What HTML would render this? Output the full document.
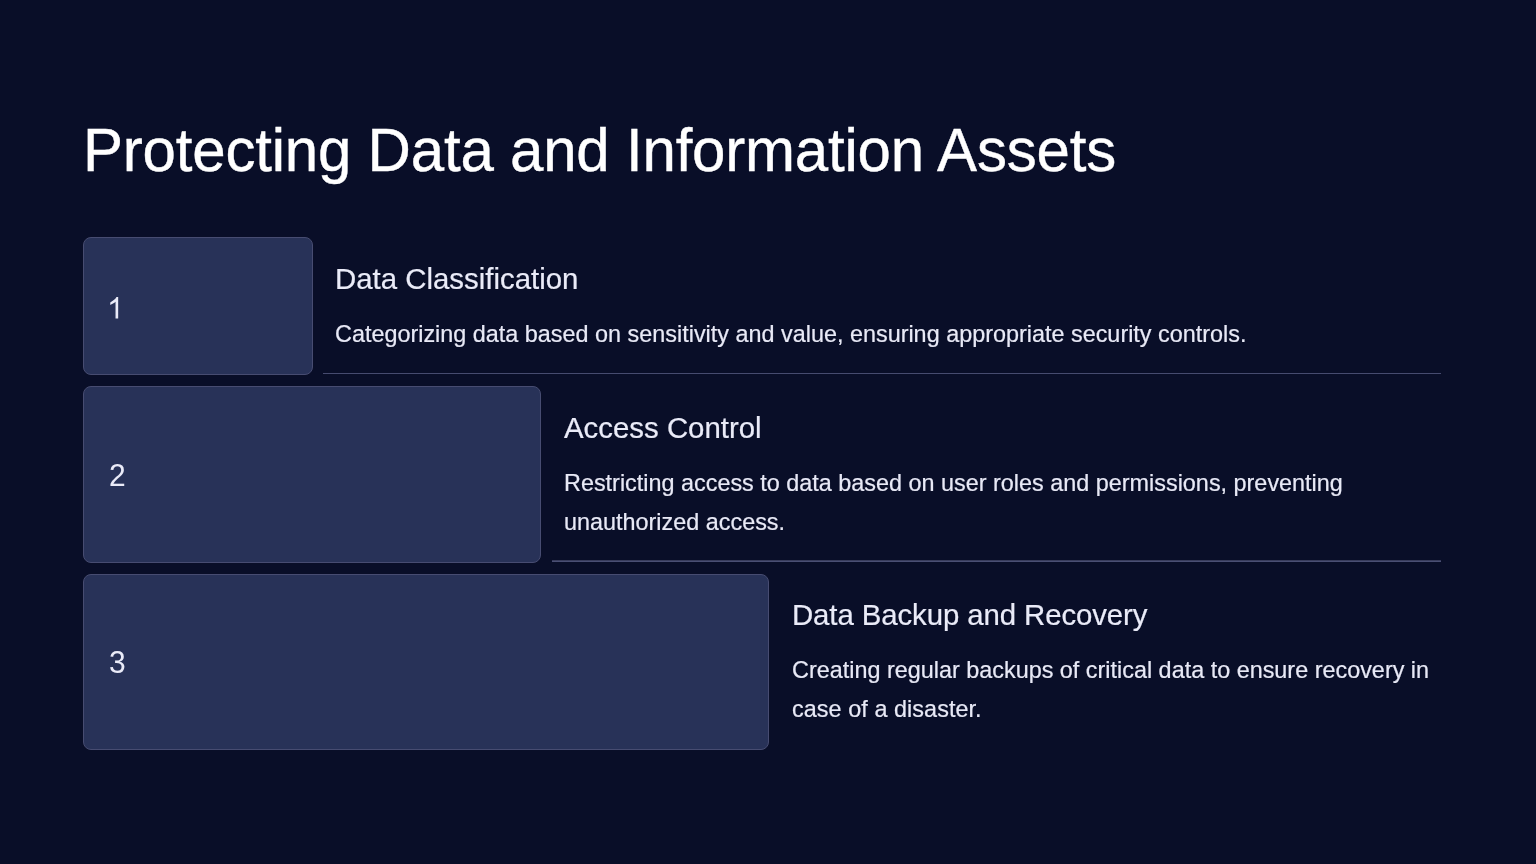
<!DOCTYPE html>
<html><head><meta charset="utf-8">
<style>
html,body{margin:0;padding:0;}
body{width:1536px;height:864px;background:#090e28;position:relative;overflow:hidden;font-family:"Liberation Sans",sans-serif;}
.t{position:absolute;white-space:nowrap;line-height:1;will-change:transform;}
.title{left:83px;top:121px;font-size:60px;letter-spacing:-0.2px;color:#ffffff;-webkit-text-stroke:0.4px #ffffff;transform:scaleY(1.025);transform-origin:0 50.5px;}
.box{position:absolute;left:83px;box-sizing:border-box;background:#283258;border:1px solid #474c71;border-radius:8px;}
.num{position:absolute;left:108.6px;font-size:30px;color:#eaebf8;transform:scaleY(1.05);transform-origin:0 27px;}
.h{font-size:29.4px;color:#eaebf8;-webkit-text-stroke:0.2px #eaebf8;transform:scaleY(1.03);transform-origin:0 25.2px;}
.b{font-size:23.4px;color:#e8e9f6;-webkit-text-stroke:0.2px #e8e9f6;transform:scaleY(1.04);transform-origin:0 19.7px;}
.sep{position:absolute;height:1px;background:#464b6f;right:95px;}
</style></head><body>
<div class="t title">Protecting Data and Information Assets</div>

<div class="box" style="top:237px;width:230px;height:138px;"></div>
<svg style="position:absolute;left:106.7px;top:297.1px;width:16.68px;height:21.56px;" viewBox="0 0 1139 1472"><path fill="#eaebf8" d="M763 1472H583V325Q518 387 412 449Q307 511 223 542V368Q374 297 487 196Q600 95 647 0H763Z"/></svg>
<div class="t h" style="left:335px;top:263.5px;">Data Classification</div>
<div class="t b" style="left:335px;top:323px;">Categorizing data based on sensitivity and value, ensuring appropriate security controls.</div>
<div class="sep" style="left:323px;top:373px;"></div>

<div class="box" style="top:386px;width:458px;height:177px;"></div>
<div class="t num" style="top:461.3px;">2</div>
<div class="t h" style="left:564px;top:412.5px;">Access Control</div>
<div class="t b" style="left:564px;top:472px;">Restricting access to data based on user roles and permissions, preventing</div>
<div class="t b" style="left:564px;top:511px;">unauthorized access.</div>
<div class="sep" style="left:552px;top:560px;height:2px;background:linear-gradient(#383c5c 0 50%,#4a4f74 50% 100%);"></div>

<div class="box" style="top:574px;width:686px;height:176px;"></div>
<div class="t num" style="top:648.4px;">3</div>
<div class="t h" style="left:792px;top:599.7px;letter-spacing:-0.1px;">Data Backup and Recovery</div>
<div class="t b" style="left:792px;top:659px;">Creating regular backups of critical data to ensure recovery in</div>
<div class="t b" style="left:792px;top:698px;letter-spacing:0.06px;">case of a disaster.</div>
</body></html>
